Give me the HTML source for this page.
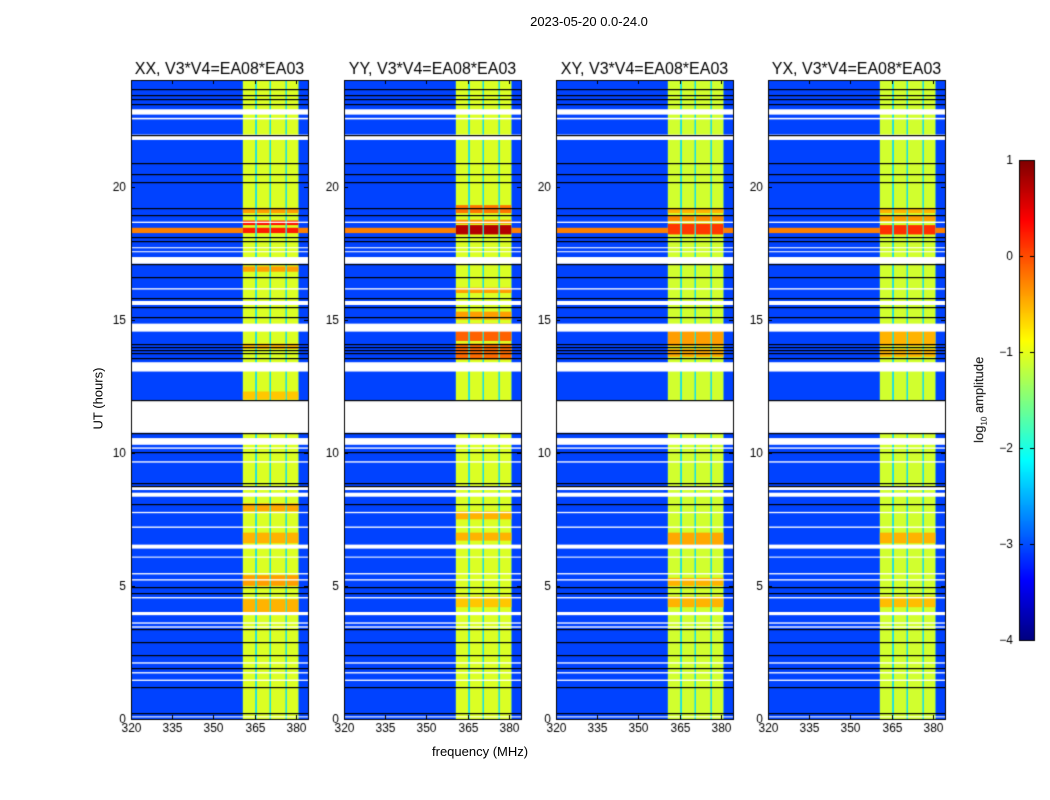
<!DOCTYPE html>
<html><head><meta charset="utf-8">
<style>
body{margin:0;background:#fff;font-family:"Liberation Sans",sans-serif;}
#wrap{position:relative;width:1050px;height:800px;overflow:hidden;}
canvas{position:absolute;left:0;top:0;}
.t{position:absolute;white-space:nowrap;color:#000;}
</style></head><body>
<div id="wrap">
<canvas id="c" width="1050" height="800"></canvas>
<div class="t" style="left:0;width:1178px;top:14px;text-align:center;font-size:13px;">2023-05-20 0.0-24.0</div>
<div class="t" style="left:432px;top:744px;font-size:13px;">frequency (MHz)</div>
<div class="t" style="left:56px;top:391px;font-size:13px;transform:rotate(-90deg);width:84px;text-align:center;">UT (hours)</div>
<div class="t" style="left:925px;top:391px;font-size:13px;transform:rotate(-90deg);width:110px;text-align:center;">log<sub style="font-size:8px">10</sub> amplitude</div>
</div>
<script>
const panelTitles=["XX, V3*V4=EA08*EA03","YY, V3*V4=EA08*EA03","XY, V3*V4=EA08*EA03","YX, V3*V4=EA08*EA03"];
const xTicks=[320,335,350,365,380];
const yTicks=[0,5,10,15,20];
const cbTicks=[1,0,-1,-2,-3,-4];
const bgLevel=[-3.05,-3.05,-3.05,-3.05];
const bandCols=[[360.7,365.2],[365.8,370.4],[370.9,376.2],[376.7,380.9]];
const bandLevel=[-1.05,-1.05,-1.1,-1.1];
const gapLevel=-2.3;
const fullStrips=[[18.25,18.45,-0.25]];
const boostsXX=[[18.55,18.72,0.3],[18.25,18.45,0.25],[19.0,19.2,-0.4],[16.8,17.0,-0.4],[13.9,14.1,-0.5],[5.0,5.4,-0.4],[4.0,4.5,-0.5],[6.6,7.0,-0.5],[12.0,12.3,-0.6],[7.8,8.1,-0.45]];
const boostsYY=[[18.2,18.55,0.75],[18.6,18.75,-0.3],[19.0,19.3,-0.2],[14.2,14.85,-0.1],[13.5,14.1,-0.15],[16.0,16.2,-0.4],[15.0,15.3,-0.4],[6.7,7.0,-0.5],[7.5,7.8,-0.5],[4.2,4.6,-0.6]];
const boostsXY=[[18.2,18.6,0.1],[18.7,18.9,-0.3],[19.0,19.2,-0.5],[14.0,14.6,-0.4],[13.6,13.9,-0.45],[6.5,7.0,-0.45],[4.2,4.6,-0.5],[5.0,5.3,-0.5]];
const boostsYX=[[18.2,18.55,0.15],[18.7,18.9,-0.4],[19.0,19.2,-0.5],[14.0,14.6,-0.5],[13.6,13.9,-0.5],[6.6,7.0,-0.5],[4.2,4.6,-0.55]];
const boosts=[boostsXX,boostsYY,boostsXY,boostsYX];
const whiteGaps=[[22.7,22.9],[22.52,22.58],[21.75,21.95],[18.63,18.68],[17.68,17.72],[17.53,17.57],[17.1,17.35],[16.13,16.18],[15.55,15.7],[14.55,14.85],[13.05,13.4],[10.75,11.97],[10.3,10.55],[10.15,10.2],[9.63,9.68],[8.35,8.5],[8.6,8.75],[7.73,7.78],[7.18,7.23],[6.4,6.55],[6.06,6.1],[5.43,5.48],[5.2,5.25],[4.53,4.58],[3.9,4.02],[3.58,3.63],[3.43,3.48],[2.08,2.13],[1.71,1.76],[1.43,1.48],[0.06,0.1]];
const blackLines=[23.65,23.45,23.3,23.1,21.95,20.9,20.47,20.17,19.2,18.93,18.1,17.95,17.1,16.6,15.8,15.47,15.1,14.1,13.97,13.85,13.74,13.55,11.97,10.74,10.03,8.86,8.75,8.07,4.95,4.73,3.38,2.9,2.4,1.92,1.2,0.22];

const panelLeft=[131,344,556,768], PW=177, PT=80, PB=719;
const F0=320, F1=384.4, H1=24;
const c=document.getElementById('c'), ctx=c.getContext('2d');
function jet(v){let t=(v+4)/5;t=Math.max(0,Math.min(1,t));
 const f=x=>Math.round(255*Math.max(0,Math.min(1,1.5-Math.abs(4*t-x))));
 return `rgb(${f(3)},${f(2)},${f(1)})`;}
function xs(p,f){return panelLeft[p]+(f-F0)/(F1-F0)*PW;}
function ys(h){return PB-(h/H1)*(PB-PT);}
function rect(p,f0,f1,h0,h1,col){const x0=xs(p,f0),x1=xs(p,f1),y0=ys(h1),y1=ys(h0);ctx.fillStyle=col;ctx.fillRect(x0,y0,x1-x0,y1-y0);}
ctx.font='12px "Liberation Sans",sans-serif';
for(let p=0;p<4;p++){
 rect(p,F0,F1,0,H1,jet(bgLevel[p]));
 fullStrips.forEach(s=>rect(p,F0,F1,s[0],s[1],jet(s[2])));
 rect(p,bandCols[0][0],bandCols[3][1],0,H1,jet(gapLevel));
 bandCols.forEach(b=>rect(p,b[0],b[1],0,H1,jet(bandLevel[p])));
 boosts[p].forEach(s=>bandCols.forEach(b=>rect(p,b[0],b[1],s[0],s[1],jet(s[2]))));
 whiteGaps.forEach(g=>rect(p,F0,F1,g[0],g[1],'#fff'));
 ctx.fillStyle='#000';
 blackLines.forEach(h=>{ctx.fillRect(panelLeft[p],Math.round(ys(h)),PW,1.2);});
 ctx.strokeStyle='#000';ctx.lineWidth=1;
 ctx.strokeRect(panelLeft[p]+0.5,PT+0.5,PW,PB-PT);
 ctx.fillStyle='#000';ctx.textAlign='center';ctx.textBaseline='top';
 xTicks.forEach(t=>{const x=Math.round(xs(p,t))+0.5;ctx.beginPath();ctx.moveTo(x,PB);ctx.lineTo(x,PB-4);ctx.moveTo(x,PT);ctx.lineTo(x,PT+4);ctx.stroke();ctx.fillText(String(t),x,PB+4);});
 ctx.textAlign='right';ctx.textBaseline='middle';
 yTicks.forEach(t=>{const y=Math.round(ys(t))+0.5;ctx.beginPath();ctx.moveTo(panelLeft[p],y);ctx.lineTo(panelLeft[p]+4,y);ctx.moveTo(panelLeft[p]+PW,y);ctx.lineTo(panelLeft[p]+PW-4,y);ctx.stroke();ctx.fillText(String(t),panelLeft[p]-5,y);});
 ctx.font='16px "Liberation Sans",sans-serif';ctx.textAlign='center';ctx.textBaseline='alphabetic';
 ctx.fillText(panelTitles[p],panelLeft[p]+PW/2,74);
 ctx.font='12px "Liberation Sans",sans-serif';
}
const cbX=1019,cbW=15,cbT=160,cbB=640;
for(let y=cbT;y<cbB;y++){const v=1-(y-cbT)/(cbB-cbT)*5;ctx.fillStyle=jet(v);ctx.fillRect(cbX,y,cbW,1);}
ctx.strokeStyle='#000';ctx.strokeRect(cbX+0.5,cbT+0.5,cbW,cbB-cbT);
ctx.textAlign='right';ctx.textBaseline='middle';ctx.fillStyle='#000';
cbTicks.forEach(t=>{const y=Math.round(cbT+(1-t)/5*(cbB-cbT))+0.5;ctx.beginPath();ctx.moveTo(cbX,y);ctx.lineTo(cbX+4,y);ctx.moveTo(cbX+cbW,y);ctx.lineTo(cbX+cbW-4,y);ctx.stroke();ctx.fillText(t<0?'\u2212'+(-t):String(t),1013,y);});
</script>
</body></html>
